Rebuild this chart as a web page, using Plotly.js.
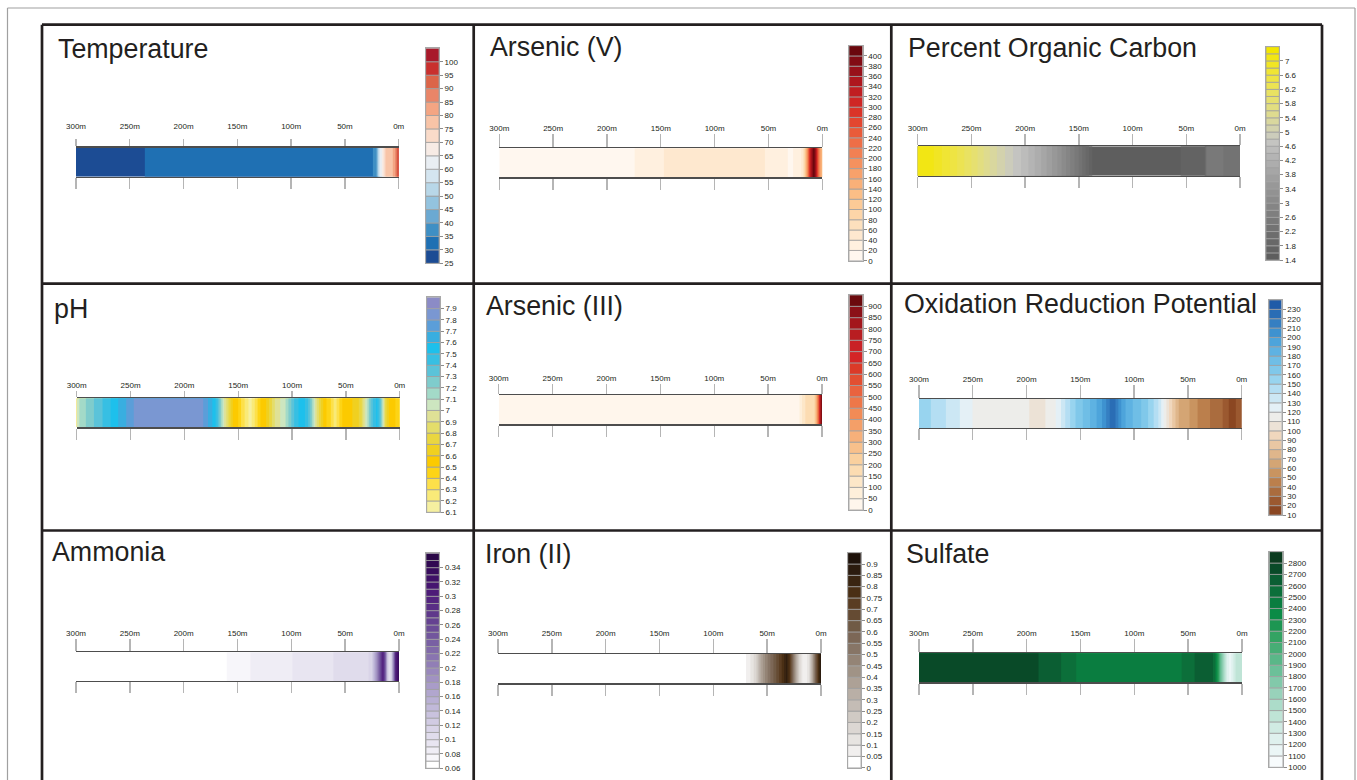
<!DOCTYPE html>
<html>
<head>
<meta charset="utf-8">
<script src="https://cdn.plot.ly/plotly-3.0.1.min.js"></script>
<style>
  html, body { margin: 0; padding: 0; background: #ffffff; }
  #chart { width: 1357px; height: 780px; }
</style>
</head>
<body>
<div id="chart"></div>
<script>
// ---------- distance ticks along each transect ----------
const distTicks = [300, 250, 200, 150, 100, 50, 0];
const distLabels = ['300m', '250m', '200m', '150m', '100m', '50m', '0m'];

// ---------- profiles along the transect (distance in m, value) ----------
const tempDist = [300, 240, 232, 100, 26, 21, 18, 15, 12, 7, 4, 2, 0];
const tempVals = [27, 28, 32, 32, 33, 38, 58, 67, 76, 78, 82, 90, 99];

const asVDist = [300, 178, 172, 150, 146, 55, 50, 33, 31, 28, 26, 20, 17, 14, 11, 8, 6, 4, 2, 0];
const asVVals = [10, 12, 25, 28, 45, 45, 30, 28, 12, 12, 30, 35, 70, 180, 330, 415, 360, 250, 170, 130];

const pocDist = [300, 285, 270, 250, 230, 215, 200, 185, 170, 160, 150, 142, 136, 56, 54, 33, 31, 16, 14, 0];
const pocVals = [7.2, 7.0, 6.6, 6.0, 5.3, 4.9, 4.5, 4.0, 3.4, 2.9, 2.4, 1.9, 1.5, 1.5, 1.75, 1.75, 2.45, 2.45, 2.25, 2.25];

const pHDist = [300, 295, 288, 280, 272, 265, 258, 250, 244, 185, 180, 176, 172, 169, 166, 163, 160, 157, 154, 150,
                146, 142, 139, 136, 132, 128, 124, 120, 116, 111, 106, 102, 98, 94, 90, 86, 83, 80, 77, 74,
                71, 68, 64, 60, 56, 52, 44, 40, 36, 33, 30, 27, 24, 21, 18, 15, 13, 10, 6, 2, 0];
const pHVals = [7.05, 7.15, 7.25, 7.35, 7.45, 7.55, 7.65, 7.75, 7.85, 7.85, 7.75, 7.65, 7.55, 7.4, 7.2, 7.0, 6.85, 6.7, 6.55, 6.5,
                6.35, 6.25, 6.15, 6.25, 6.4, 6.55, 6.6, 6.75, 6.9, 7.0, 7.1, 7.25, 7.4, 7.5, 7.55, 7.45, 7.3, 7.1, 6.9, 6.75,
                6.6, 6.5, 6.4, 6.25, 6.4, 6.55, 6.6, 6.65, 6.75, 6.95, 7.1, 7.3, 7.45, 7.52, 7.35, 7.0, 6.75, 6.6, 6.55, 6.45, 6.45];

const asIIIDist = [300, 22, 20, 17, 14, 10, 7, 5, 3, 1.5, 0];
const asIIIVals = [25, 25, 70, 130, 170, 160, 200, 330, 550, 800, 920];

const orpDist = [300, 289, 285, 275, 270, 262, 256, 248, 200, 195, 190, 185, 180, 174, 170, 166, 162, 157, 152, 146,
                 141, 136, 131, 126, 122, 119, 116, 112, 108, 103, 97, 92, 88, 83, 79, 76, 73, 70, 67, 64,
                 60, 57, 51, 46, 43, 38, 33, 28, 22, 16, 11, 7, 4, 0];
const orpVals = [155, 150, 145, 140, 135, 130, 125, 118, 115, 105, 103, 105, 115, 118, 125, 135, 145, 155, 165, 172,
                 180, 188, 197, 210, 222, 226, 215, 200, 190, 182, 175, 168, 162, 152, 145, 135, 122, 110, 98, 88,
                 75, 65, 62, 58, 52, 47, 45, 38, 35, 28, 18, 15, 25, 25];

const amDist = [300, 162, 158, 140, 136, 101, 97, 63, 59, 30, 25, 21, 17, 15, 13, 11, 9, 7, 5, 3, 0];
const amVals = [0.065, 0.065, 0.075, 0.075, 0.085, 0.085, 0.095, 0.095, 0.105, 0.105, 0.12, 0.18, 0.26, 0.30, 0.25, 0.14, 0.10, 0.12, 0.20, 0.30, 0.34];

const feDist = [300, 72, 68, 64, 60, 56, 52, 47, 43, 39, 35, 32, 29, 26, 23, 20, 17, 14, 11, 8, 5, 2, 0];
const feVals = [0.02, 0.02, 0.07, 0.12, 0.20, 0.35, 0.45, 0.55, 0.62, 0.70, 0.78, 0.86, 0.75, 0.55, 0.35, 0.18, 0.09, 0.07, 0.15, 0.35, 0.60, 0.80, 0.90];

const so4Dist = [300, 191, 187, 170, 166, 156, 152, 58, 54, 46, 42, 33, 28, 25, 22, 20, 17, 14, 11, 9, 6, 3, 0];
const so4Vals = [2750, 2750, 2650, 2650, 2550, 2550, 2450, 2450, 2550, 2550, 2650, 2690, 2650, 2500, 2200, 1900, 1600, 1300, 1150, 1250, 1400, 1450, 1500];

// ---------- colour-bar tick labels ----------
const tempTicks = [25, 30, 35, 40, 45, 50, 55, 60, 65, 70, 75, 80, 85, 90, 95, 100];
const asVTicks = [0, 20, 40, 60, 80, 100, 120, 140, 160, 180, 200, 220, 240, 260, 280, 300, 320, 340, 360, 380, 400];
const pocTicks = [1.4, 1.8, 2.2, 2.6, 3, 3.4, 3.8, 4.2, 4.6, 5, 5.4, 5.8, 6.2, 6.6, 7];
const pHTicks = [6.1, 6.2, 6.3, 6.4, 6.5, 6.6, 6.7, 6.8, 6.9, 7, 7.1, 7.2, 7.3, 7.4, 7.5, 7.6, 7.7, 7.8, 7.9];
const asIIITicks = [0, 50, 100, 150, 200, 250, 300, 350, 400, 450, 500, 550, 600, 650, 700, 750, 800, 850, 900];
const orpTicks = [10, 20, 30, 40, 50, 60, 70, 80, 90, 100, 110, 120, 130, 140, 150, 160, 170, 180, 190, 200, 210, 220, 230];
const amTicks = [0.06, 0.08, 0.1, 0.12, 0.14, 0.16, 0.18, 0.2, 0.22, 0.24, 0.26, 0.28, 0.3, 0.32, 0.34];
const feTicks = [0, 0.05, 0.1, 0.15, 0.2, 0.25, 0.3, 0.35, 0.4, 0.45, 0.5, 0.55, 0.6, 0.65, 0.7, 0.75, 0.8, 0.85, 0.9];
const so4Ticks = [1000, 1100, 1200, 1300, 1400, 1500, 1600, 1700, 1800, 1900, 2000, 2100, 2200, 2300, 2400, 2500, 2600, 2700, 2800];

// ---------- band colours, lowest band first ----------
const tempColors = ['#1c4c94', '#1f70b3', '#3f8fc4', '#6ba9d2', '#93c3df', '#b8d7e8', '#d4e5f0', '#e9eef3',
                    '#f7ebe5', '#fadbc9', '#f8c4a7', '#f4a583', '#e98568', '#dc6549', '#c9302e', '#a8192a'];
const asVColors = ['#fff7ef', '#fff0df', '#fee8cf', '#fde0bd', '#fdd5a8', '#fcca96', '#fbbe86', '#f9b078', '#f7a16b', '#f5915e',
                   '#f28053', '#ee6e47', '#e95b3a', '#e34630', '#da3428', '#cf2624', '#c01e21', '#ae171e', '#98111a', '#820c14', '#6a070d'];
const pocColors = ['#5e5e5e', '#636363', '#686868', '#6d6d6d', '#737373', '#797979', '#7f7f7f', '#858585', '#8b8b8b', '#929292',
                   '#989898', '#9f9f9f', '#a6a6a6', '#adadad', '#b4b4b4', '#bcbcbb', '#c4c4c1', '#ccccbb', '#d3d2ad', '#d9d79e',
                   '#dedb8f', '#e2de80', '#e6e070', '#e9e262', '#ece352', '#eee443', '#f0e534', '#f1e524', '#f2e614', '#f3e600'];
const pHColors = ['#f6f0a0', '#f9ea78', '#fde04a', '#fdd416', '#fcca00', '#f0d020', '#ead640', '#e4dd6a', '#dfe196', '#cde6c0',
                  '#a3dac8', '#7fcccc', '#5bc3d9', '#37bfe3', '#1dc0ec', '#39aee0', '#5b9ed9', '#7a97d2', '#8b8bc6'];
const asIIIColors = ['#fff6ec', '#feefda', '#fde7c8', '#fcdcb2', '#fad09e', '#f8c08b', '#f6b07a', '#f49f68', '#f28b56', '#ee7749',
                     '#e9633f', '#e24f32', '#db3a28', '#d42426', '#c92226', '#b81d21', '#a3161c', '#8b1117', '#6b0a0d'];
const orpColors = ['#8b4722', '#9b5930', '#aa6c3e', '#bb7f4c', '#c99460', '#d4a574', '#dfb68b', '#e9c7a3', '#f0d7bd', '#ece2d6',
                   '#ededea', '#e4f0f6', '#cce7f4', '#b4def3', '#98d4ef', '#80c8ea', '#6fbee6', '#5eb2e2', '#4da4db', '#3e92d0',
                   '#357fc2', '#2a6db5', '#1f5ba8'];
const amColors = ['#ffffff', '#f7f6fa', '#efedf5', '#e8e5f1', '#e0dcec', '#d9d4e8', '#d1cbe3', '#c9c2de', '#c1b9d9', '#b9b0d4',
                  '#b1a6ce', '#a99cc8', '#a192c2', '#9988bc', '#917eb6', '#8974b0', '#816aa9', '#7960a3', '#72569d', '#6b4c97',
                  '#654291', '#5f388b', '#592e85', '#53247f', '#4d1c78', '#461570', '#3f1067', '#380c5d', '#310952', '#2a0747'];
const feColors = ['#ffffff', '#f1efee', '#e7e4e1', '#dcd7d3', '#d0cac4', '#c4bcb5', '#b9afa6', '#ada196', '#a09386', '#948476',
                  '#877566', '#7c6756', '#705a45', '#654b33', '#5a3d22', '#4a2f14', '#3a2511', '#2b1b0e', '#1e120a'];
const so4Colors = ['#f7fbfc', '#ebf6f6', '#dff1ee', '#d0ebe3', '#bfe4d6', '#acdcc9', '#98d2ba', '#82c9aa', '#6cc099', '#5ab788',
                   '#47ad75', '#34a363', '#1d9652', '#0b8b46', '#0a7d40', '#0c6f3a', '#0b5e33', '#094a28', '#0b3b1f'];

// ---------- panel set-up: data, band scale [lowest edge, band width, band count] and placement (px) ----------
const panels = [
  { title: 'Temperature', dist: tempDist, vals: tempVals, colors: tempColors, bins: [25, 5, 16], ticks: tempTicks,
    strip: [76, 398.7, 147.7, 176.7], bar: [425.7, 439, 48.3, 263.3], head: [56.5, 58.3], tickUp: 7.7, lblGap: 21.7 },
  { title: 'Arsenic (V)', dist: asVDist, vals: asVVals, colors: asVColors, bins: [0, 20, 21], ticks: asVTicks,
    strip: [499.3, 822.3, 148.3, 177.3], bar: [849, 862.7, 45.7, 260.7], head: [488.5, 56.7], tickUp: 13, lblGap: 19.3 },
  { title: 'Percent Organic Carbon', dist: pocDist, vals: pocVals, colors: pocColors, bins: [1.4, 0.2, 30], ticks: pocTicks,
    strip: [917.7, 1240, 146.3, 175.7], bar: [1266, 1279.3, 46.7, 260], head: [906.5, 57.3], tickUp: 11.3, lblGap: 17.3 },
  { title: 'pH', dist: pHDist, vals: pHVals, colors: pHColors, bins: [6.1, 0.1, 19], ticks: pHTicks,
    strip: [76.7, 399.7, 398.3, 427.3], bar: [426.7, 440, 297.3, 512.3], head: [52.5, 318.3], tickUp: 6, lblGap: 16.6 },
  { title: 'Arsenic (III)', dist: asIIIDist, vals: asIIIVals, colors: asIIIColors, bins: [0, 50, 19], ticks: asIIITicks,
    strip: [498.7, 822, 395, 424.3], bar: [849.3, 862.7, 295, 510], head: [485, 315], tickUp: 10, lblGap: 16.7 },
  { title: 'Oxidation Reduction Potential', dist: orpDist, vals: orpVals, colors: orpColors, bins: [10, 10, 23], ticks: orpTicks,
    strip: [919, 1241.7, 399, 428], bar: [1269, 1281.7, 300, 515], head: [902.5, 313.3], tickUp: 12.3, lblGap: 15.3 },
  { title: 'Ammonia', dist: amDist, vals: amVals, colors: amColors, bins: [0.06, 0.01, 30], ticks: amTicks,
    strip: [76, 399, 652.3, 681], bar: [426, 439.3, 553.3, 768.3], head: [51, 561.7], tickUp: 12.3, lblGap: 15.6 },
  { title: 'Iron (II)', dist: feDist, vals: feVals, colors: feColors, bins: [0, 0.05, 19], ticks: feTicks,
    strip: [498, 821, 654, 683.3], bar: [847.7, 861, 552.7, 767.7], head: [483.5, 563.3], tickUp: 14, lblGap: 18.7 },
  { title: 'Sulfate', dist: so4Dist, vals: so4Vals, colors: so4Colors, bins: [1000, 100, 19], ticks: so4Ticks,
    strip: [919, 1242, 653.3, 682.3], bar: [1269.3, 1282.7, 551.7, 767.3], head: [905.3, 563.3], tickUp: 13.3, lblGap: 18.3 }
];

const W = 1357, H = 780;
const fx = px => px / W;
const fy = py => 1 - py / H;
const INK = '#231f20';
const FONT = 'Liberation Sans, Arial, Helvetica, sans-serif';
const STRIP_ROWS = [0, 1];
const fmt = v => String(+v.toFixed(4));

const traces = [];
const layout = {
  width: W, height: H,
  margin: { l: 0, r: 0, t: 0, b: 0 },
  paper_bgcolor: '#ffffff', plot_bgcolor: '#ffffff',
  showlegend: false,
  font: { family: FONT, color: INK, size: 8 },
  annotations: [],
  shapes: []
};
const axKey = (letter, n) => letter + 'axis' + (n === 1 ? '' : n);

panels.forEach((p, i) => {
  const a = 3 * i + 1, b = 3 * i + 2, c = 3 * i + 3;
  const [lo, step, n] = p.bins;
  const edges = Array.from({ length: n + 1 }, (_, k) => +(lo + k * step).toFixed(6));
  const lows = edges.slice(0, n);
  const mids = lows.map(e => +(e + step / 2).toFixed(6));
  const scale = p.colors.map((col, k) => [k / (p.colors.length - 1), col]);
  const xs = p.dist.slice().reverse();
  const zs = p.vals.slice().reverse();

  // filled contour strip along the transect
  traces.push({
    type: 'contour', x: xs, y: STRIP_ROWS, z: STRIP_ROWS.map(() => zs),
    xaxis: 'x' + a, yaxis: 'y' + a,
    autocontour: false,
    contours: { start: edges[1], end: edges[n - 1], size: step, coloring: 'fill', showlines: false },
    colorscale: scale, line: { width: 0 }, showscale: false, hoverinfo: 'skip'
  });
  // keeps the top (labelled) distance axis alive
  traces.push({ type: 'scatter', x: [], y: [], xaxis: 'x' + b, yaxis: 'y' + a, hoverinfo: 'skip' });
  // banded legend bar: one block per contour band
  traces.push({
    type: 'bar', x: lows.map(() => 0), y: lows.map(() => step), base: lows, width: 1,
    xaxis: 'x' + c, yaxis: 'y' + c,
    marker: { color: mids, colorscale: scale, cmin: mids[0], cmax: mids[n - 1], line: { color: '#a0a0a0', width: 0.8 } },
    hoverinfo: 'skip'
  });

  const [sx0, sx1, sy0, sy1] = p.strip;
  const [bx0, bx1, by0, by1] = p.bar;
  const distAxis = {
    domain: [fx(sx0), fx(sx1)], range: [300, 0], fixedrange: true,
    showline: true, linecolor: '#4d4d4d', linewidth: 1.3,
    ticks: 'outside', tickcolor: '#b5b5b5', tickwidth: 1.4,
    tickmode: 'array', tickvals: distTicks, ticktext: distLabels,
    showgrid: false, zeroline: false
  };
  layout[axKey('x', a)] = Object.assign({}, distAxis, {
    anchor: 'y' + a, side: 'bottom', ticklen: 11, showticklabels: false
  });
  layout[axKey('x', b)] = Object.assign({}, distAxis, {
    anchor: 'y' + a, overlaying: 'x' + a, side: 'top', ticklen: p.tickUp,
    showticklabels: true, tickfont: { size: 8, color: INK, family: FONT },
    ticklabelstandoff: Math.max(0, p.lblGap - p.tickUp - 7)
  });
  layout[axKey('y', a)] = {
    domain: [fy(sy1), fy(sy0)], range: [0, 1], anchor: 'x' + a, visible: false, fixedrange: true
  };
  layout[axKey('x', c)] = {
    domain: [fx(bx0), fx(bx1)], range: [-0.5, 0.5], anchor: 'y' + c, fixedrange: true,
    showline: true, mirror: true, linecolor: '#a8a8a8', linewidth: 1,
    ticks: '', showticklabels: false, showgrid: false, zeroline: false
  };
  layout[axKey('y', c)] = {
    domain: [fy(by1), fy(by0)], range: [edges[0], edges[n]], anchor: 'x' + c, side: 'right', fixedrange: true,
    showline: true, mirror: true, linecolor: '#a8a8a8', linewidth: 1,
    ticks: 'outside', ticklen: 3, tickcolor: '#8c8c8c', tickwidth: 1,
    tickmode: 'array', tickvals: p.ticks, ticktext: p.ticks.map(fmt),
    tickfont: { size: 8, color: INK, family: FONT },
    showgrid: false, zeroline: false
  };

  layout.annotations.push({
    text: p.title, xref: 'paper', yref: 'paper',
    x: fx(p.head[0]), y: fy(p.head[1] - 9.3), xanchor: 'left', yanchor: 'middle',
    showarrow: false, borderpad: 0,
    font: { family: FONT, size: 26.8, color: INK }
  });
});

// figure frame: light outer border, heavy panel grid
const line = (x0, y0, x1, y1, color, width) => ({
  type: 'line', xref: 'paper', yref: 'paper', layer: 'above',
  x0: fx(x0), y0: fy(y0), x1: fx(x1), y1: fy(y1), line: { color, width }
});
layout.shapes.push(
  line(7.5, 8, 1355, 8, '#a0a0a0', 1.2),
  line(7.5, 8, 7.5, 800, '#a0a0a0', 1.2),
  line(1355, 8, 1355, 800, '#a0a0a0', 1.2),
  line(42, 24.7, 1322, 24.7, '#231f20', 2.7),
  line(42, 24.7, 42, 800, '#231f20', 2.7),
  line(1322, 24.7, 1322, 800, '#231f20', 2.7),
  line(473.7, 24.7, 473.7, 800, '#231f20', 2.7),
  line(891.3, 24.7, 891.3, 800, '#231f20', 2.7),
  line(42, 283.7, 1322, 283.7, '#231f20', 2.7),
  line(42, 530.5, 1322, 530.5, '#231f20', 2.7)
);

Plotly.newPlot('chart', traces, layout, { staticPlot: true, displayModeBar: false });
</script>
</body>
</html>
